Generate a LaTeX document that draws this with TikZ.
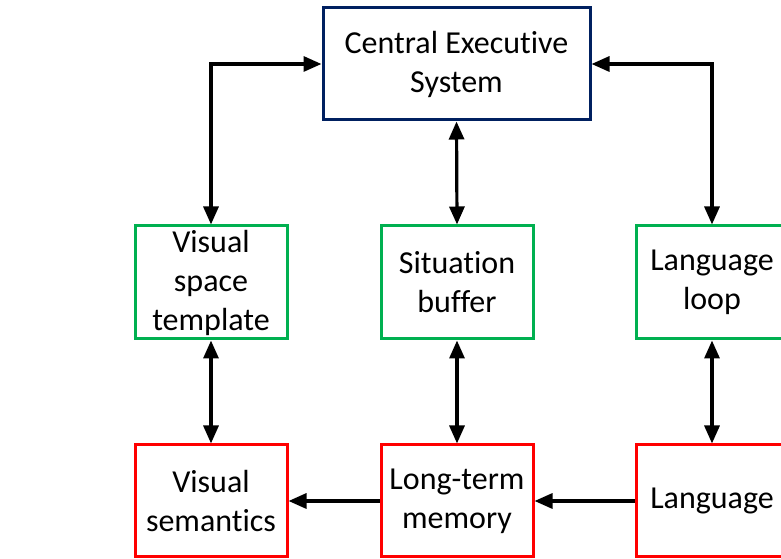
\documentclass[tikz,border=0pt]{standalone}
\usepackage{fontspec}
\setmainfont{Carlito}[Ligatures={NoCommon}]
\usetikzlibrary{arrows.meta}
\definecolor{execblue}{RGB}{0,32,96}
\definecolor{bufgreen}{RGB}{0,176,80}
\definecolor{memred}{RGB}{255,0,0}
\tikzset{
  x=1pt, y=1pt,
  box/.style={draw, line width=3pt, fill=white, align=center,
    minimum width=152pt, minimum height=113pt, inner sep=0pt,
    font=\fontsize{32}{39}\selectfont},
  execbox/.style={box, draw=execblue, minimum width=267pt, minimum height=112pt},
  bufbox/.style={box, draw=bufgreen},
  membox/.style={box, draw=memred, minimum height=112pt},
  link/.style={line width=3.2pt, {Triangle[length=18pt,width=15pt]}-{Triangle[length=18pt,width=15pt]}},
  oneway/.style={line width=3.2pt, -{Triangle[length=18pt,width=15pt]}}
}
\begin{document}
\begin{tikzpicture}
  \clip (0,0) rectangle (781,559);
  \fill[white] (0,0) rectangle (781,559);

  % top: executive
  \node[execbox] (cen) at (456.5,495) {Central Executive\\System};

  % middle row: buffers
  \node[bufbox] (vst) at (211,276.5) {Visual\\space\\template};
  \node[bufbox] (sb)  at (457,276.5) {Situation\\buffer};
  \node[bufbox] (ll)  at (712,276.5) {Language\\loop};

  % bottom row: memory stores
  \node[membox] (vs)  at (211,58) {Visual\\semantics};
  \node[membox] (ltm) at (457,58) {Long-term\\memory};
  \node[membox] (lang) at (712,58) {Language};

  % connectors
  \draw[link] (vst.north) |- (cen.west);
  \draw[link] (ll.north) |- (cen.east);
  \draw[link] (cen.south) -- (sb.north);
  \draw[link] (vst.south) -- (vs.north);
  \draw[link] (sb.south) -- (ltm.north);
  \draw[link] (ll.south) -- (lang.north);
  \draw[oneway] (lang.west) -- (ltm.east);
  \draw[oneway] (ltm.west) -- (vs.east);
\end{tikzpicture}
\end{document}
